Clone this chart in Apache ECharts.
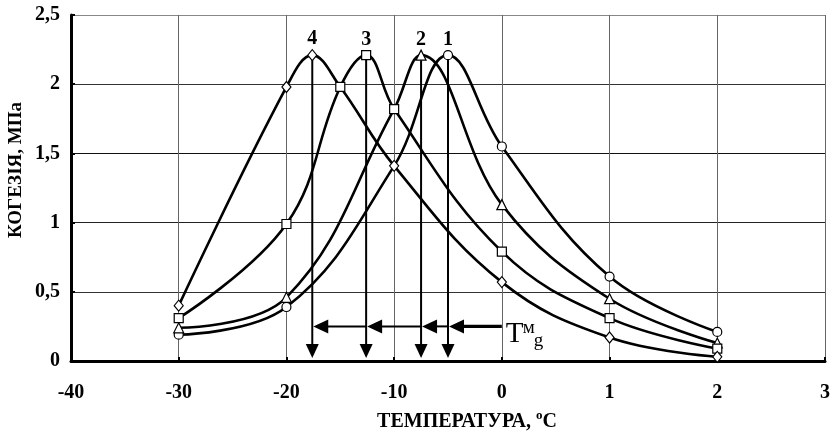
<!DOCTYPE html>
<html><head><meta charset="utf-8">
<script src="https://cdn.jsdelivr.net/npm/echarts@6.0.0/dist/echarts.min.js"></script>
<style>html,body{margin:0;padding:0;background:#fff}#c{width:833px;height:440px}</style>
</head><body><div id="c"></div>
<script>
// ---- data ----
const xTickLabels = ['-40','-30','-20','-10','0','1','2','3'];
const c1Temp = [-30, -20, -10, -5, 0, 1, 2];
const c1Val  = [0.19, 0.39, 1.41, 2.21, 1.55, 0.61, 0.21];
const c2Temp = [-30, -20, -10, -7.5, 0, 1, 2];
const c2Val  = [0.24, 0.46, 1.82, 2.21, 1.13, 0.45, 0.13];
const c3Temp = [-30, -20, -15, -12.6, -10, 0, 1, 2];
const c3Val  = [0.31, 0.99, 1.98, 2.21, 1.82, 0.79, 0.31, 0.09];
const c4Temp = [-30, -20, -17.6, -15, -10, 0, 1, 2];
const c4Val  = [0.40, 1.98, 2.21, 1.98, 1.41, 0.57, 0.17, 0.03];
const peakTemps = [-5, -7.5, -12.6, -17.6];
const peakVals  = [2.21, 2.21, 2.21, 2.21];
const peakLabels = ['1', '2', '3', '4'];
const tgLevel = 0.25;
const tgFrom = [0, -5, -7.5, -12.6];
const tgTo   = [-5, -7.5, -12.6, -17.6];

// axis is evenly spaced by label index: -40..0 step 10, then 0..3 step 1
function pos(t) { return t <= 0 ? 4 + t / 10 : 4 + t; }

const FONT = '"Liberation Serif", "Times New Roman", serif';

function curve(name, temps, vals, symbol, size, hidden, peakIdx, lbl) {
  return {
    type: 'line', name, smooth: 0.4, symbol, symbolSize: size, showAllSymbol: true, z: 3,
    lineStyle: { color: '#000', width: 2.6 },
    itemStyle: { color: '#fff', borderColor: '#000', borderWidth: 1.2 },
    emphasis: { disabled: true },
    data: temps.map((t, i) => {
      const d = { value: [pos(t), vals[i]] };
      if (hidden.includes(i)) d.symbol = 'none';
      if (i === peakIdx) d.label = { show: true, formatter: lbl, position: 'top', distance: 0,
        fontFamily: FONT, fontWeight: 'bold', fontSize: 20, color: '#000' };
      return d;
    })
  };
}

const chart = echarts.init(document.getElementById('c'));
chart.setOption({
  animation: false,
  backgroundColor: '#fff',
  grid: { left: 71, right: 4, top: 15, bottom: 79 },
  xAxis: {
    type: 'value', min: 0, max: 7, interval: 1,
    axisLine: { lineStyle: { color: '#000', width: 3 } },
    axisTick: { show: true, inside: true, length: 4, lineStyle: { color: '#000', width: 2 } },
    axisLabel: { formatter: v => xTickLabels[v], margin: 22, fontFamily: FONT, fontWeight: 'bold', fontSize: 20, color: '#000' },
    splitLine: { show: true, lineStyle: { color: '#666', width: 1 } }
  },
  yAxis: {
    type: 'value', min: 0, max: 2.5, interval: 0.5,
    axisLine: { show: true, lineStyle: { color: '#000', width: 3 } },
    axisTick: { show: true, inside: true, length: 4, lineStyle: { color: '#000', width: 2 } },
    axisLabel: { formatter: v => String(v).replace('.', ','), margin: 11, fontFamily: FONT, fontWeight: 'bold', fontSize: 20, color: '#000' },
    splitLine: { show: true, lineStyle: { color: ['#000', '#333', '#222', '#111', '#333', '#888'], width: 1 } }
  },
  graphic: [
    { type: 'text', x: 16, y: 170, rotation: Math.PI / 2,
      style: { text: 'КОГЕЗІЯ, МПа', align: 'center', verticalAlign: 'middle', font: 'bold 19px ' + FONT, fill: '#000' } },
    { type: 'text', x: 467, y: 422,
      style: { text: 'ТЕМПЕРАТУРА, {s|o}C', align: 'center', verticalAlign: 'middle', font: 'bold 20px ' + FONT, fill: '#000',
        lineHeight: 25,
        rich: { s: { font: 'bold 13px ' + FONT, lineHeight: 13, verticalAlign: 'top', fill: '#000' } } } }
  ],
  series: [
    // vertical arrows from each peak
    { type: 'custom', z: 1, silent: true,
      data: peakTemps.map((t, i) => [pos(t), peakVals[i]]),
      renderItem(params, api) {
        const top = api.coord([api.value(0), api.value(1)]);
        const bot = api.coord([api.value(0), 0]);
        const tip = bot[1] - 3, h = 14, w = 6.5, x = top[0];
        return { type: 'group', children: [
          { type: 'line', shape: { x1: x, y1: top[1], x2: x, y2: tip - h + 1 }, style: { stroke: '#000', lineWidth: 2 } },
          { type: 'polygon', shape: { points: [[x - w, tip - h], [x + w, tip - h], [x, tip]] }, style: { fill: '#000' } }
        ] };
      } },
    // horizontal Tg arrows
    { type: 'custom', z: 1, silent: true,
      data: tgFrom.map((f, i) => [pos(f), pos(tgTo[i]), tgLevel]),
      renderItem(params, api) {
        const a = api.coord([api.value(0), api.value(2)]);
        const b = api.coord([api.value(1), api.value(2)]);
        const tipX = b[0] + 1, L = 15, hh = 7;
        const lw = params.dataIndex === 0 ? 3.2 : 2;
        const ch = [
          { type: 'line', shape: { x1: a[0], y1: a[1], x2: tipX + L - 1, y2: a[1] }, style: { stroke: '#000', lineWidth: lw } },
          { type: 'polygon', shape: { points: [[tipX, b[1]], [tipX + L, b[1] - hh], [tipX + L, b[1] + hh]] }, style: { fill: '#000' } }
        ];
        if (params.dataIndex === 0) {
          ch.push({ type: 'text', x: a[0] + 4, y: a[1] + 8, style: { text: 'T', font: '29px ' + FONT, verticalAlign: 'middle', fill: '#000' } });
          ch.push({ type: 'text', x: a[0] + 21, y: a[1] + 2, style: { text: 'м', font: '19px ' + FONT, verticalAlign: 'middle', fill: '#000' } });
          ch.push({ type: 'text', x: a[0] + 32, y: a[1] + 15, style: { text: 'g', font: '19px ' + FONT, verticalAlign: 'middle', fill: '#000' } });
        }
        return { type: 'group', children: ch };
      } },
    curve('1', c1Temp, c1Val, 'circle', 9, [2], 3, peakLabels[0]),
    curve('2', c2Temp, c2Val, 'triangle', 10, [2], 3, peakLabels[1]),
    curve('3', c3Temp, c3Val, 'rect', 9, [], 3, peakLabels[2]),
    curve('4', c4Temp, c4Val, 'diamond', [9, 11], [3], 2, peakLabels[3])
  ]
});
</script>
</body></html>
